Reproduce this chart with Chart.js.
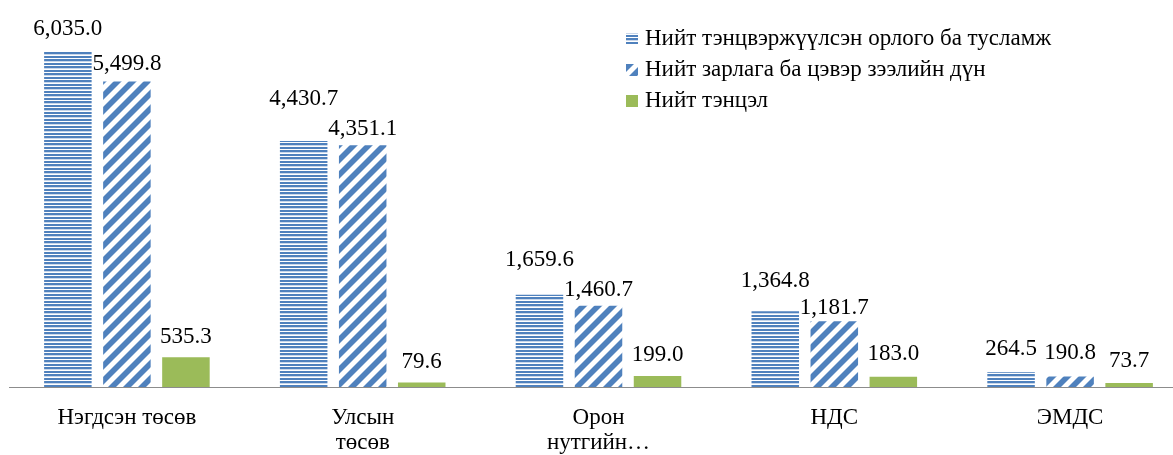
<!DOCTYPE html>
<html>
<head>
<meta charset="utf-8">
<script src="https://cdn.jsdelivr.net/npm/chart.js@4"></script>
<style>
html, body { margin: 0; padding: 0; background: #fff; overflow: hidden; }
#wrap { width: 1173px; height: 455px; overflow: hidden; }
</style>
</head>
<body>
<div id="wrap"><canvas id="budget_chart" width="1200" height="455"></canvas></div>
<script>
// categories (x axis), the wrapped ones are split in lines like in the original
const categories = ['Нэгдсэн төсөв', ['Улсын', 'төсөв'], ['Орон', 'нутгийн…'], 'НДС', 'ЭМДС'];
const seriesNames = ['Нийт тэнцвэржүүлсэн орлого ба тусламж', 'Нийт зарлага ба цэвэр зээлийн дүн', 'Нийт тэнцэл'];
const revenue = [6035.0, 4430.7, 1659.6, 1364.8, 264.5];
const expense = [5499.8, 4351.1, 1460.7, 1181.7, 190.8];
const balance = [535.3, 79.6, 199.0, 183.0, 73.7];

const SERIF = '"Times New Roman", "Liberation Serif", serif';
const BLUE = '#4F81BD';
const GREEN = '#9BBB59';

// horizontal stripes (like excel "narrow horizontal")
function horizPattern(ctx) {
	const c = document.createElement('canvas');
	c.width = 8; c.height = 7;
	const g = c.getContext('2d');
	g.fillStyle = '#fff';
	g.fillRect(0, 0, 8, 7);
	g.fillStyle = BLUE;
	g.fillRect(0, 0, 8, 2);
	g.fillRect(0, 3, 8, 2);
	g.fillStyle = '#c9d7ea';
	g.fillRect(0, 5, 8, 1);
	return ctx.createPattern(c, 'repeat');
}

// wide upward diagonal stripes
function diagPattern(ctx) {
	const n = 15;
	const c = document.createElement('canvas');
	c.width = n; c.height = n;
	const g = c.getContext('2d');
	const img = g.createImageData(n, n);
	for (let y = 0; y < n; y++) {
		for (let x = 0; x < n; x++) {
			const v = (x + y) % n;
			let col = [255, 255, 255];
			if (v < 7) col = [79, 129, 189];
			else if (v == 7 || v == n - 1) col = [167, 192, 222];
			const k = (y * n + x) * 4;
			img.data[k] = col[0]; img.data[k + 1] = col[1]; img.data[k + 2] = col[2]; img.data[k + 3] = 255;
		}
	}
	g.putImageData(img, 0, 0);
	return ctx.createPattern(c, 'repeat');
}

// gap between bar top and label baseline (labels were moved by hand in the original)
const labelGap = [[17, 36, 29, 24, 17], [12, 10, 10, 7, 17], [14, 15, 15, 17, 16]];

const valueLabels = {
	id: 'valueLabels',
	afterDatasetsDraw(chart) {
		const ctx = chart.ctx;
		ctx.save();
		ctx.font = '23px ' + SERIF;
		ctx.fillStyle = '#000';
		ctx.textAlign = 'center';
		ctx.textBaseline = 'alphabetic';
		chart.data.datasets.forEach((ds, i) => {
			chart.getDatasetMeta(i).data.forEach((bar, j) => {
				const txt = ds.data[j].toLocaleString('en-US', { minimumFractionDigits: 1, maximumFractionDigits: 1 });
				ctx.fillText(txt, bar.x, bar.y - labelGap[i][j]);
			});
		});
		ctx.restore();
	}
};

// legend drawn by hand, top right inside the plot
const sideLegend = {
	id: 'sideLegend',
	afterDraw(chart) {
		const ctx = chart.ctx;
		ctx.save();
		ctx.font = '23px ' + SERIF;
		ctx.textBaseline = 'middle';
		ctx.textAlign = 'left';
		chart.data.datasets.forEach((ds, i) => {
			const yc = 39 + i * 31;
			ctx.fillStyle = ds.backgroundColor;
			ctx.fillRect(626, yc - 6, 12, 12);
			ctx.fillStyle = '#000';
			ctx.fillText(ds.label, 645, yc);
		});
		ctx.restore();
	}
};

const context = document.getElementById('budget_chart').getContext('2d');
const budget_chart = new Chart(context, {
	type: 'bar',
	data: {
		labels: categories,
		datasets: [
			{ label: seriesNames[0], data: revenue, backgroundColor: horizPattern(context) },
			{ label: seriesNames[1], data: expense, backgroundColor: diagPattern(context) },
			{ label: seriesNames[2], data: balance, backgroundColor: GREEN }
		]
	},
	options: {
		responsive: false,
		animation: false,
		layout: { padding: { top: 26, left: 9, right: 12, bottom: 0 } },
		datasets: { bar: { categoryPercentage: 0.751, barPercentage: 0.805, borderWidth: 0 } },
		plugins: {
			legend: { display: false },
			tooltip: { enabled: false }
		},
		scales: {
			x: {
				grid: { display: false, drawTicks: false },
				border: { display: true, color: '#8c8c8c', width: 1 },
				ticks: {
					color: '#000',
					font: { family: SERIF, size: 23, lineHeight: 1.1 },
					padding: 18,
					maxRotation: 0,
					autoSkip: false
				},
				afterFit(scale) { scale.height = 68; }
			},
			y: { display: false, min: 0, max: 6500 }
		}
	},
	plugins: [valueLabels, sideLegend]
});
</script>
</body>
</html>
